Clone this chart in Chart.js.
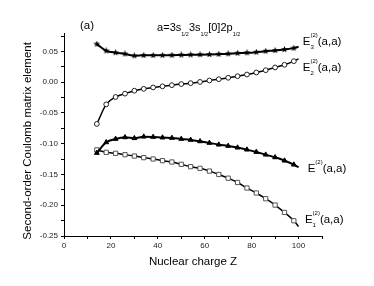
<!DOCTYPE html>
<html>
<head>
<meta charset="utf-8">
<script src="https://cdn.jsdelivr.net/npm/chart.js@4"></script>
<style>
  html, body { margin: 0; padding: 0; background: #fff; }
  canvas { display: block; }
</style>
</head>
<body>
<canvas id="chart" width="374" height="286"></canvas>
<script>
// Nuclear charge Z (symbols every 4th point, curve runs to Z = 100)
const zValues = [14, 18, 22, 26, 30, 34, 38, 42, 46, 50, 54, 58, 62, 66, 70, 74, 78, 82, 86, 90, 94, 98, 100];

// E3^(2)(a,a) - stars
const e3Values = [0.062, 0.051, 0.048, 0.046, 0.043, 0.0437, 0.0437, 0.0438, 0.044, 0.0443, 0.0446, 0.0448, 0.0451,
  0.0456, 0.0462, 0.0472, 0.0478, 0.0489, 0.0505, 0.0516, 0.0532, 0.0554, 0.0576];
// E2^(2)(a,a) - open circles
const e2Values = [-0.0678, -0.0360, -0.0240, -0.0186, -0.0138, -0.0108, -0.0085, -0.0067, -0.0048, -0.0030, -0.0015,
  0.0005, 0.0028, 0.0049, 0.0072, 0.0098, 0.0125, 0.0158, 0.0195, 0.024, 0.0283, 0.0342, 0.038];
// E^(2)(a,a) - filled triangles
const eValues = [-0.115, -0.0977, -0.0922, -0.0896, -0.091, -0.0885, -0.089, -0.09, -0.0906, -0.0922, -0.0938,
  -0.0961, -0.0987, -0.1015, -0.1036, -0.1063, -0.1096, -0.1134, -0.1178, -0.1221, -0.1275, -0.134, -0.1384];
// E1^(2)(a,a) - open squares
const e1Values = [-0.110, -0.114, -0.1156, -0.1178, -0.120, -0.1226, -0.1248, -0.1275, -0.1297, -0.1335, -0.1373,
  -0.140, -0.1445, -0.150, -0.156, -0.163, -0.172, -0.1801, -0.1894, -0.1997, -0.2117, -0.2252, -0.2345];

const xTickValues = [0, 10, 20, 30, 40, 50, 60, 70, 80, 90, 100, 110];
const xTickLabels = ['0', '', '20', '', '40', '', '60', '', '80', '', '100', ''];
const yTickValues = [-0.25, -0.225, -0.2, -0.175, -0.15, -0.125, -0.1, -0.075, -0.05, -0.025, 0, 0.025, 0.05, 0.075];
const yTickLabels = ['-0.25', '', '-0.20', '', '-0.15', '', '-0.10', '', '-0.05', '', '0.00', '', '0.05', ''];

const FONT = '"Liberation Sans", Arial, Helvetica, sans-serif';

// small filled five-point star used as point style
function makeStar(size) {
  const c = document.createElement('canvas');
  c.width = size;
  c.height = size;
  const g = c.getContext('2d');
  const cx = size / 2, cy = size / 2, ro = size / 2, ri = ro * 0.45;
  g.beginPath();
  for (let i = 0; i < 10; i++) {
    const r = i % 2 === 0 ? ro : ri;
    const a = -Math.PI / 2 + (i * Math.PI) / 5;
    g.lineTo(cx + r * Math.cos(a), cy + r * Math.sin(a));
  }
  g.closePath();
  g.fillStyle = '#000';
  g.fill();
  return c;
}
const starImg = makeStar(7);

const toPoints = (vals) => zValues.map((z, i) => ({ x: z, y: vals[i] }));
const lastIdx = zValues.length - 1;
const radiusSkipLast = (r) => (ctx) => (ctx.dataIndex === lastIdx ? 0 : r);

function series(vals, style, extra) {
  return Object.assign({
    data: toPoints(vals),
    showLine: true,
    borderColor: '#000',
    pointStyle: style,
    pointBorderWidth: 1,
    cubicInterpolationMode: 'monotone',
  }, extra);
}

// rich text: parts with size and vertical shift, sub/sup can be stacked
function drawRich(ctx, x, y, parts) {
  let cx = x;
  let stackStart = null;
  parts.forEach((p) => {
    ctx.font = p.size + 'px ' + FONT;
    const w = ctx.measureText(p.t).width;
    if (p.stack) {
      stackStart = cx;
      ctx.fillText(p.t, cx, y + p.dy);
      cx += w;
      return;
    }
    if (p.overStack && stackStart !== null) {
      ctx.fillText(p.t, stackStart, y + p.dy);
      cx = Math.max(cx, stackStart + w);
      stackStart = null;
      return;
    }
    ctx.fillText(p.t, cx, y + (p.dy || 0));
    cx += w;
  });
}

const textPlugin = {
  id: 'texts',
  afterDraw(chart) {
    const { ctx } = chart;
    const xs = chart.scales.x, ys = chart.scales.y;
    const px = (v) => xs.getPixelForValue(v);
    const py = (v) => ys.getPixelForValue(v);
    ctx.save();
    ctx.fillStyle = '#000';
    ctx.textBaseline = 'alphabetic';
    ctx.textAlign = 'left';

    drawRich(ctx, px(6.8), py(0.0857), [{ t: '(a)', size: 11.5 }]);
    drawRich(ctx, px(39.7), py(0.0833), [
      { t: 'a=3s', size: 11 }, { t: '1/2', size: 5.5, dy: 5 },
      { t: '3s', size: 11 }, { t: '1/2', size: 5.5, dy: 5 },
      { t: '[0]2p', size: 11 }, { t: '1/2', size: 5.5, dy: 5 },
    ]);

    const labels = [
      { x: 101.8, y: 0.0605, sub: '3' },
      { x: 101.8, y: 0.0187, sub: '2' },
      { x: 103.9, y: -0.146, sub: null },
      { x: 102.7, y: -0.2294, sub: '1' },
    ];
    labels.forEach((l) => {
      const parts = [{ t: 'E', size: 11.5 }];
      if (l.sub) {
        parts.push({ t: l.sub, size: 6, dy: 4, stack: true });
        parts.push({ t: '(2)', size: 6, dy: -8, overStack: true });
      } else {
        parts.push({ t: '(2)', size: 6, dy: -8 });
      }
      parts.push({ t: '(a,a)', size: 11.5 });
      drawRich(ctx, px(l.x), py(l.y), parts);
    });
    ctx.restore();
  },
};

const ctx = document.getElementById('chart').getContext('2d');
new Chart(ctx, {
  type: 'scatter',
  data: {
    datasets: [
      series(e3Values, starImg, { borderWidth: 2, pointRadius: radiusSkipLast(3.5), pointBackgroundColor: '#000' }),
      series(e2Values, 'circle', { borderWidth: 1.5, pointRadius: radiusSkipLast(2.4), pointBackgroundColor: '#fff', pointBorderColor: '#222' }),
      series(eValues, 'triangle', { borderWidth: 2, pointRadius: radiusSkipLast(2.8), pointBackgroundColor: '#000' }),
      series(e1Values, 'rect', { borderWidth: 1.5, pointRadius: radiusSkipLast(3), pointBackgroundColor: '#fff', pointBorderColor: '#555' }),
    ],
  },
  options: {
    responsive: false,
    animation: false,
    devicePixelRatio: 1,
    layout: { padding: { top: 33, right: 52, left: 0, bottom: 0 } },
    plugins: { legend: { display: false }, tooltip: { enabled: false } },
    scales: {
      x: {
        type: 'linear',
        min: 0,
        max: 110,
        afterBuildTicks: (s) => { s.ticks = xTickValues.map((v) => ({ value: v })); },
        afterFit: (s) => { s.height = 50; },
        ticks: {
          callback: (v, i) => xTickLabels[i],
          font: { family: FONT, size: 8 },
          color: '#222',
          padding: 2,
          maxRotation: 0,
          autoSkip: false,
        },
        grid: { drawOnChartArea: false, drawTicks: true, tickLength: 3, color: '#000' },
        border: { color: '#000', width: 1 },
        title: {
          display: true,
          text: 'Nuclear charge Z',
          font: { family: FONT, size: 11.5 },
          color: '#000',
          padding: { top: 0, bottom: 17 },
        },
      },
      y: {
        type: 'linear',
        min: -0.25,
        max: 0.08,
        afterBuildTicks: (s) => { s.ticks = yTickValues.map((v) => ({ value: v })); },
        afterFit: (s) => { s.width = 64; },
        ticks: {
          callback: (v, i) => yTickLabels[i],
          font: { family: FONT, size: 8 },
          color: '#222',
          padding: 3,
          autoSkip: false,
        },
        grid: { drawOnChartArea: false, drawTicks: true, tickLength: 3, color: '#000' },
        border: { color: '#000', width: 1 },
        title: {
          display: true,
          // trailing spaces push the rotated label a little lower, as in the original
          text: 'Second-order Coulomb matrix element    ',
          font: { family: FONT, size: 11.5 },
          color: '#000',
          padding: { top: 21, bottom: 0 },
        },
      },
    },
  },
  plugins: [textPlugin],
});
</script>
</body>
</html>
